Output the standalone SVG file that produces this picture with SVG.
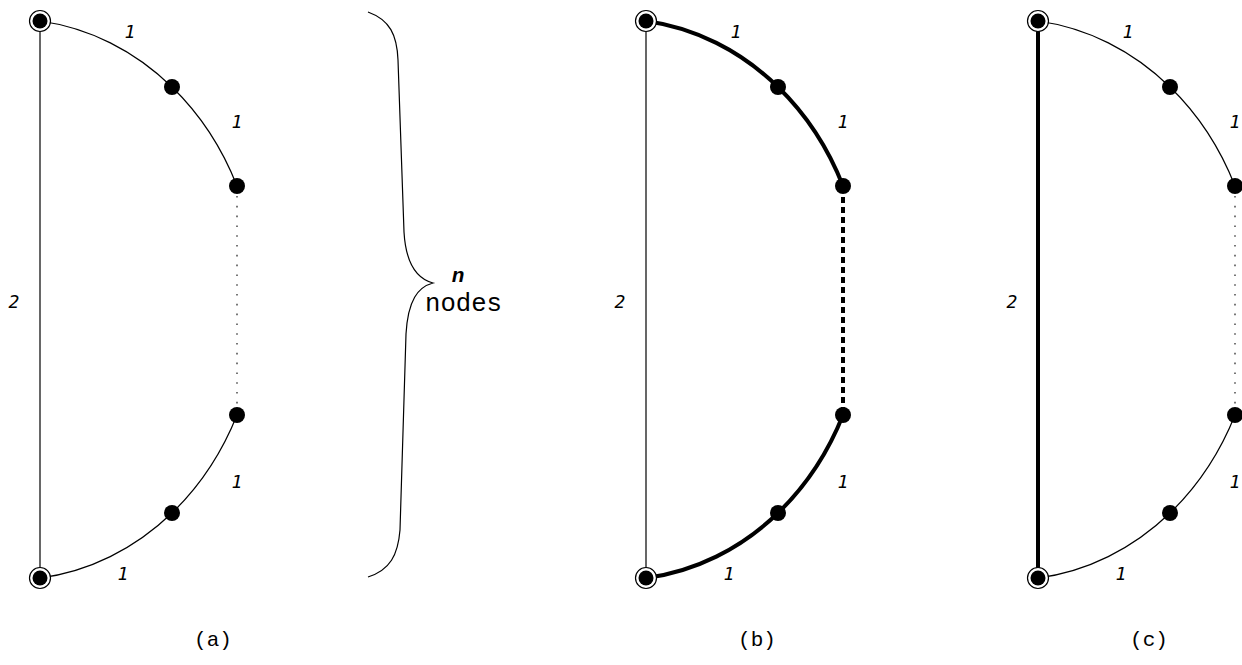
<svg xmlns="http://www.w3.org/2000/svg" width="1242" height="665" viewBox="0 0 1242 665">
<style>
.bg{fill:#fff}
.thin{fill:none;stroke:#000;stroke-width:1.2}
.thick{fill:none;stroke:#000;stroke-width:4}
.dot{fill:none;stroke:#555;stroke-width:1.6;stroke-dasharray:1.6 8.2}
.dash{fill:none;stroke:#000;stroke-width:4;stroke-dasharray:6 4}
.lbl{font-family:"DejaVu Sans Mono",monospace;font-style:italic;font-size:18px;fill:#000}
.cap{font-family:"Liberation Mono","Courier New",monospace;font-size:21px;fill:#000}
.nd{fill:#000}
.ring{fill:#fff;stroke:#000;stroke-width:1.2}
</style>
<defs>
<g id="endnode"><circle class="ring" r="10.5"/><circle class="nd" r="7.5"/></g>
</defs>
<rect class="bg" width="1242" height="665"/>

<g id="connectors">
  <!-- (a) -->
  <path class="thin" d="M40,21 L40,578"/>
  <path class="thin" d="M40,21 A248 281 0 0 1 172,87 A248 281 0 0 1 237,186"/>
  <path class="dot" d="M237,196 L237,410"/>
  <path class="thin" d="M237,415 A248 281 0 0 1 172,513 A248 281 0 0 1 40,578"/>
  <!-- (b) -->
  <path class="thin" d="M646,21 L646,578"/>
  <path class="thick" d="M646,21 A248 281 0 0 1 778,87 A248 281 0 0 1 843,186"/>
  <path class="dash" d="M843,197 L843,410"/>
  <path class="thick" d="M843,415 A248 281 0 0 1 778,513 A248 281 0 0 1 646,578"/>
  <!-- (c) -->
  <path class="thick" d="M1038,21 L1038,578"/>
  <path class="thin" d="M1038,21 A248 281 0 0 1 1170,87 A248 281 0 0 1 1235,186"/>
  <path class="dot" d="M1235,196 L1235,410"/>
  <path class="thin" d="M1235,415 A248 281 0 0 1 1170,513 A248 281 0 0 1 1038,578"/>
  <!-- brace -->
  <path class="thin" d="M368,12 C390,20 397,35 398,60 L404,232 C406,266 418,279 433,283 C418,287 408,300 406,334 L400,530 C398,555 390,570 368,577"/>
</g>

<g id="panel-a">
  <g id="a-n1"><use href="#endnode" x="40" y="21"/></g>
  <g id="a-n2"><circle class="nd" cx="172" cy="87" r="8"/></g>
  <g id="a-n3"><circle class="nd" cx="237" cy="186" r="8"/></g>
  <g id="a-n4"><circle class="nd" cx="237" cy="415" r="8"/></g>
  <g id="a-n5"><circle class="nd" cx="172" cy="513" r="8"/></g>
  <g id="a-n6"><use href="#endnode" x="40" y="578"/></g>
  <text class="lbl" x="130" y="38" text-anchor="middle">1</text>
  <text class="lbl" x="237" y="128" text-anchor="middle">1</text>
  <text class="lbl" x="14" y="308" text-anchor="middle">2</text>
  <text class="lbl" x="237" y="488" text-anchor="middle">1</text>
  <text class="lbl" x="123" y="580" text-anchor="middle">1</text>
  <text class="cap" x="213" y="646" text-anchor="middle">(a)</text>
</g>

<g id="brace-label">
  <text x="458" y="282" text-anchor="middle" style="font-family:'Liberation Mono',monospace;font-style:italic;font-weight:bold;font-size:21px">n</text>
  <text class="cap" x="425" y="311" style="font-size:25px" textLength="77" lengthAdjust="spacingAndGlyphs">nodes</text>
</g>

<g id="panel-b">
  <g id="b-n1"><use href="#endnode" x="646" y="21"/></g>
  <g id="b-n2"><circle class="nd" cx="778" cy="87" r="8"/></g>
  <g id="b-n3"><circle class="nd" cx="843" cy="186" r="8"/></g>
  <g id="b-n4"><circle class="nd" cx="843" cy="415" r="8"/></g>
  <g id="b-n5"><circle class="nd" cx="778" cy="513" r="8"/></g>
  <g id="b-n6"><use href="#endnode" x="646" y="578"/></g>
  <text class="lbl" x="736" y="38" text-anchor="middle">1</text>
  <text class="lbl" x="843" y="128" text-anchor="middle">1</text>
  <text class="lbl" x="620" y="308" text-anchor="middle">2</text>
  <text class="lbl" x="843" y="488" text-anchor="middle">1</text>
  <text class="lbl" x="729" y="580" text-anchor="middle">1</text>
  <text class="cap" x="757" y="646" text-anchor="middle">(b)</text>
</g>

<g id="panel-c">
  <g id="c-n1"><use href="#endnode" x="1038" y="21"/></g>
  <g id="c-n2"><circle class="nd" cx="1170" cy="87" r="8"/></g>
  <g id="c-n3"><circle class="nd" cx="1235" cy="186" r="8"/></g>
  <g id="c-n4"><circle class="nd" cx="1235" cy="415" r="8"/></g>
  <g id="c-n5"><circle class="nd" cx="1170" cy="513" r="8"/></g>
  <g id="c-n6"><use href="#endnode" x="1038" y="578"/></g>
  <text class="lbl" x="1128" y="38" text-anchor="middle">1</text>
  <text class="lbl" x="1235" y="128" text-anchor="middle">1</text>
  <text class="lbl" x="1012" y="308" text-anchor="middle">2</text>
  <text class="lbl" x="1235" y="488" text-anchor="middle">1</text>
  <text class="lbl" x="1121" y="580" text-anchor="middle">1</text>
  <text class="cap" x="1149" y="646" text-anchor="middle">(c)</text>
</g>
</svg>
